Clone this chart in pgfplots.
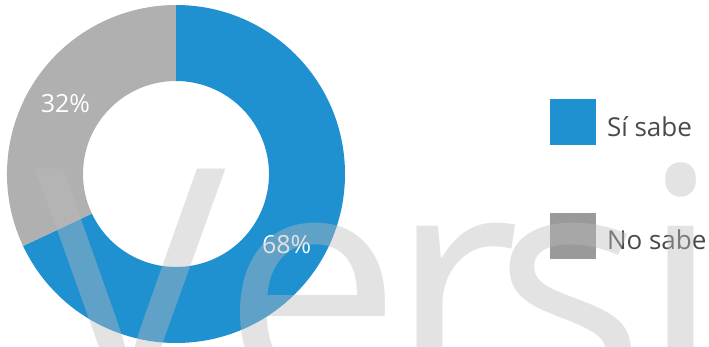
\documentclass[border=0pt]{standalone}
\usepackage{pgfplots}
\usepackage{pgfplotstable}
\pgfplotsset{compat=1.18}
\usetikzlibrary{calc}
\usepackage{fontspec}
\setmainfont{Open Sans}
\definecolor{piblue}{HTML}{1F90D0}
\definecolor{pigray}{HTML}{B0B0B0}
\definecolor{leggray}{HTML}{9A9A9A}
\definecolor{wmgray}{HTML}{BBBBBB}
\definecolor{legtext}{HTML}{4A4A4A}

\pgfplotstableread{
value
68
32
}\donutdata
\pgfplotstablegetelem{0}{value}\of\donutdata
\pgfmathsetmacro\va{\pgfplotsretval}
\pgfplotstablegetelem{1}{value}\of\donutdata
\pgfmathsetmacro\vb{\pgfplotsretval}
\pgfmathsetmacro\tot{\va+\vb}
\pgfmathsetmacro\fa{\va/\tot}
\pgfmathsetmacro\fb{\vb/\tot}
\pgfmathsetmacro\aEnd{90-360*\fa}
\pgfmathsetmacro\aStop{\aEnd-360*\fb}
\pgfmathsetmacro\aMidA{90-180*\fa}
\pgfmathsetmacro\aMidB{\aEnd-180*\fb}
\pgfmathtruncatemacro\pa{round(100*\fa)}
\pgfmathtruncatemacro\pb{round(100*\fb)}

\begin{document}
\begin{tikzpicture}
\useasboundingbox (0,0) rectangle (709pt,346pt);
\clip (0,0) rectangle (709pt,346pt);
\begin{axis}[at={(0pt,0pt)}, anchor=south west, scale only axis,
  width=709pt, height=346pt, xmin=0, xmax=709, ymin=0, ymax=346,
  hide axis, clip=false,
  legend cell align=left,
  legend style={at={(axis cs:550,247)}, anchor=north west, draw=none, fill=none,
    inner sep=0pt, outer sep=0pt, row sep=67.5pt, column sep=11pt,
    font=\fontsize{26}{26}\selectfont, text=legtext,
    nodes={inner sep=0pt, text height=20pt, text depth=0pt}},
  legend image code/.code={\fill[#1] (0pt,-19pt) rectangle (46pt,27pt);}]
\addlegendimage{fill=piblue, draw=none}
\addlegendentry{Sí sabe}
\addlegendimage{fill=leggray, draw=none}
\addlegendentry{No sabe}
\coordinate (wm) at (axis cs:35,-51.5);
\fill[piblue] ($(axis cs:176,172)+(90:169pt)$) arc[start angle=90, end angle=\aEnd, radius=169pt]
  -- ($(axis cs:176,172)+(\aEnd:93pt)$) arc[start angle=\aEnd, end angle=90, radius=93pt] -- cycle;
\fill[pigray] ($(axis cs:176,172)+(\aEnd:169pt)$) arc[start angle=\aEnd, end angle=\aStop, radius=169pt]
  -- ($(axis cs:176,172)+(\aStop:93pt)$) arc[start angle=\aStop, end angle=\aEnd, radius=93pt] -- cycle;
\node[text=white, font=\fontsize{25}{25}\selectfont, inner sep=0pt] at ($(axis cs:176,172)+(\aMidA:131pt)$) {\pa\%};
\node[text=white, font=\fontsize{25}{25}\selectfont, inner sep=0pt] at ($(axis cs:176,172)+(\aMidB:131pt)$) {\pb\%};
\end{axis}
\node[anchor=base west, inner sep=0pt, text=wmgray, text opacity=0.415,
  font=\fontsize{320}{320}\selectfont] at (wm) {V\kern-3pt e\kern-13pt r\kern-26pt s\kern-6pt i};
\end{tikzpicture}
\end{document}
